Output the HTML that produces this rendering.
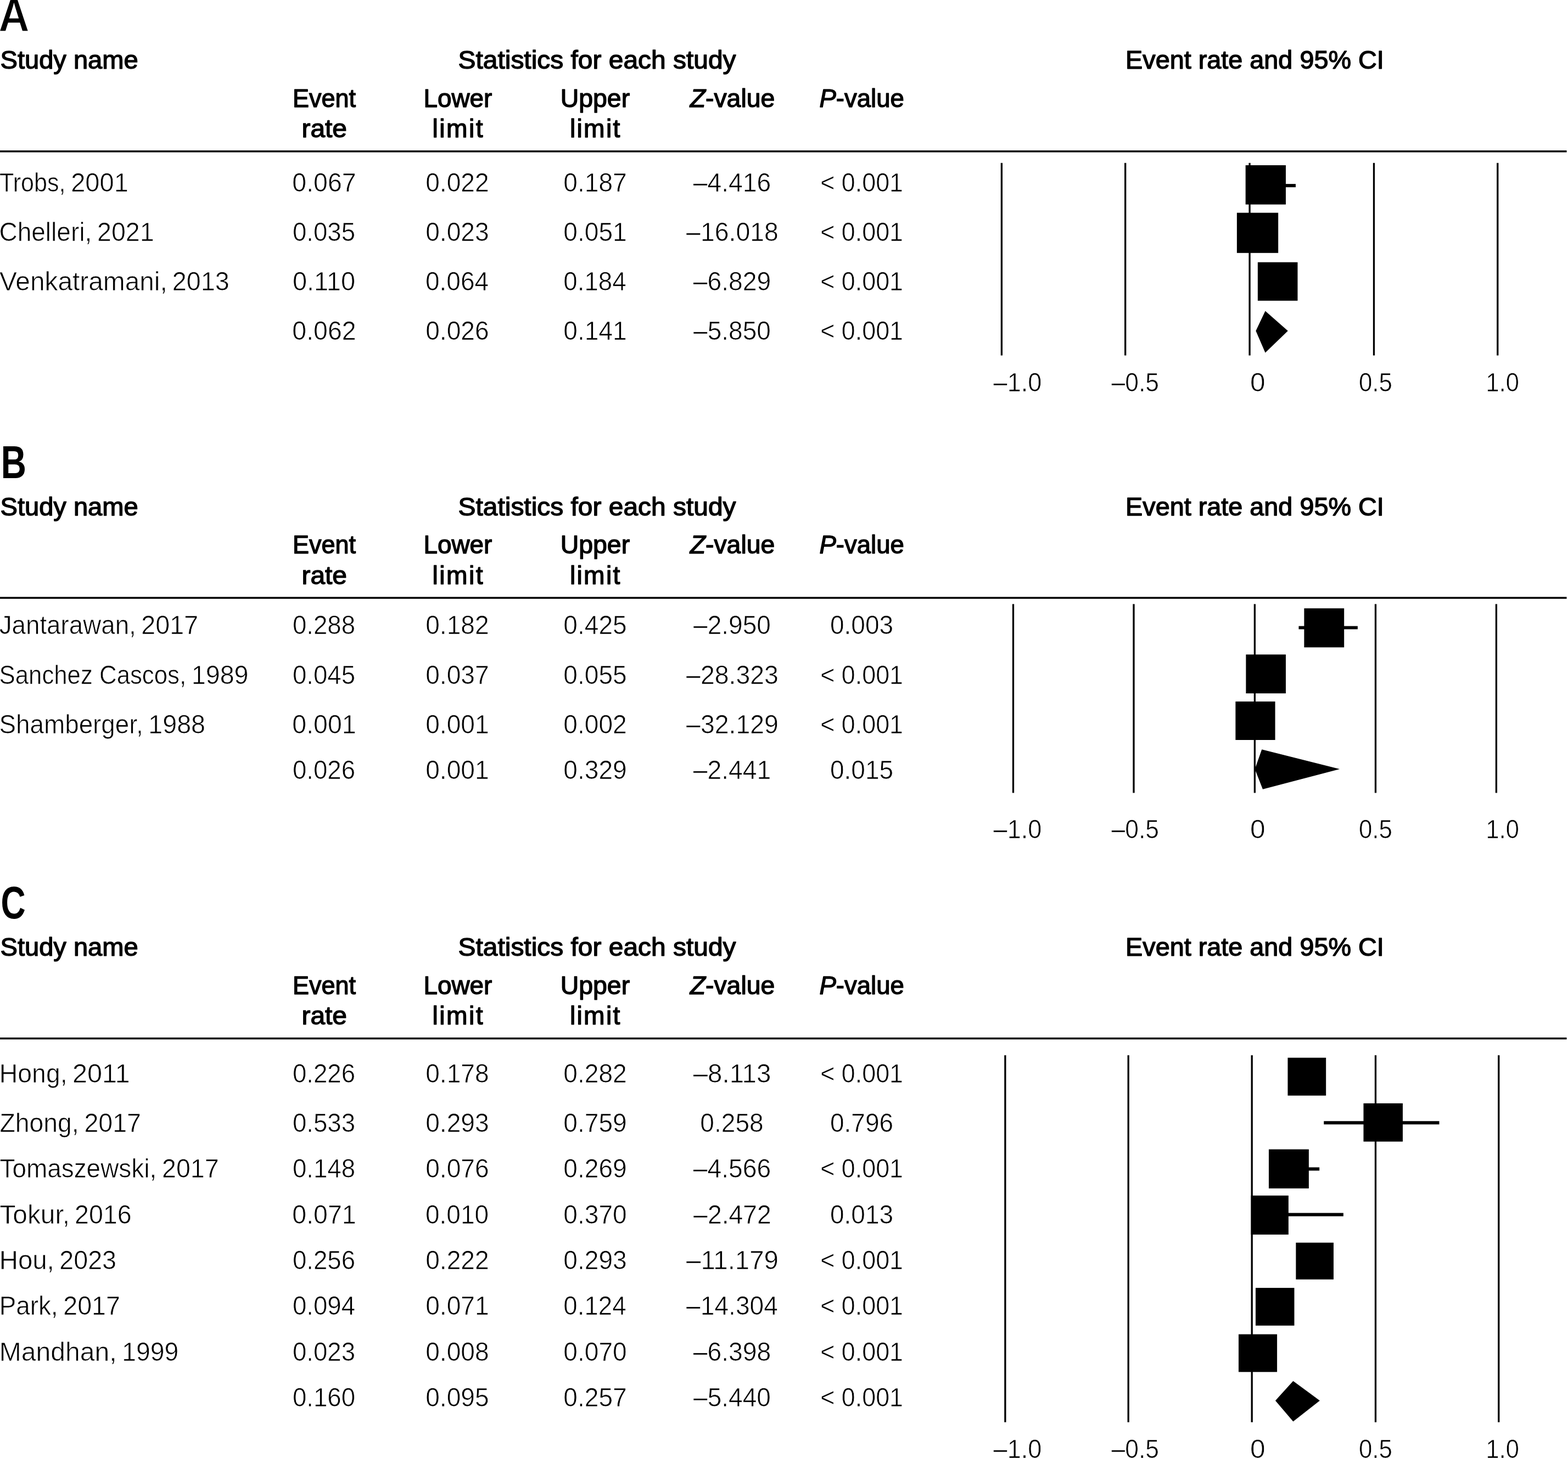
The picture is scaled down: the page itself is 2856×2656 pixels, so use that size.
<!DOCTYPE html>
<html lang="en"><head><meta charset="utf-8"><title>Forest plots: event rate and 95% CI</title>
<style>
html,body{margin:0;padding:0;background:#fff;}
body{width:2856px;height:2656px;overflow:hidden;}
svg{display:block;}
text{font-family:"Liberation Sans",sans-serif;fill:#000;white-space:pre;}
.b{font-weight:400;stroke:#fff;stroke-width:0.7px;}
.h{font-weight:400;stroke:#000;stroke-width:1.4px;stroke-linejoin:round;}
.L{font-weight:700;}
</style></head><body>
<svg width="2856" height="2656" viewBox="0 0 2856 2656">
<rect width="2856" height="2656" fill="#fff"/>
<g fill="#000" shape-rendering="geometricPrecision">

<rect x="0.00" y="274.05" width="2853.60" height="3.40"/>
<rect x="0.00" y="1087.40" width="2853.60" height="3.40"/>
<rect x="0.00" y="1890.05" width="2853.60" height="3.40"/>
<rect x="1822.75" y="296.80" width="3.30" height="350.70"/>
<rect x="2048.05" y="296.80" width="3.30" height="350.70"/>
<rect x="2274.45" y="296.80" width="3.30" height="350.70"/>
<rect x="2500.85" y="296.80" width="3.30" height="350.70"/>
<rect x="2726.15" y="296.80" width="3.30" height="350.70"/>
<rect x="2268.70" y="301.00" width="73.30" height="71.50"/>
<rect x="2252.90" y="387.60" width="75.30" height="73.20"/>
<rect x="2290.90" y="477.70" width="72.60" height="70.10"/>
<rect x="2300.00" y="335.10" width="60.00" height="6.00"/>
<polygon points="2287.4,602.7 2304.6,566.5 2345.8,602.7 2304.6,642.5"/>
<rect x="1843.85" y="1100.40" width="3.30" height="344.00"/>
<rect x="2063.35" y="1100.40" width="3.30" height="344.00"/>
<rect x="2283.75" y="1100.40" width="3.30" height="344.00"/>
<rect x="2503.85" y="1100.40" width="3.30" height="344.00"/>
<rect x="2723.75" y="1100.40" width="3.30" height="344.00"/>
<rect x="2375.40" y="1108.20" width="72.80" height="71.10"/>
<rect x="2269.40" y="1192.30" width="72.60" height="70.80"/>
<rect x="2250.40" y="1277.90" width="72.20" height="70.10"/>
<rect x="2365.50" y="1140.50" width="107.40" height="5.80"/>
<polygon points="2285.6,1401.1 2298.3,1365.2 2440.2,1401.1 2300.0,1437.7"/>
<rect x="1829.25" y="1922.30" width="3.30" height="668.50"/>
<rect x="2053.55" y="1922.30" width="3.30" height="668.50"/>
<rect x="2278.55" y="1922.30" width="3.30" height="668.50"/>
<rect x="2503.85" y="1922.30" width="3.30" height="668.50"/>
<rect x="2728.15" y="1922.30" width="3.30" height="668.50"/>
<rect x="2345.50" y="1926.80" width="69.70" height="69.00"/>
<rect x="2483.50" y="2009.90" width="71.50" height="69.70"/>
<rect x="2311.00" y="2093.70" width="72.90" height="71.20"/>
<rect x="2278.60" y="2177.90" width="68.30" height="71.10"/>
<rect x="2360.40" y="2263.70" width="68.60" height="67.00"/>
<rect x="2287.00" y="2346.10" width="70.50" height="68.70"/>
<rect x="2256.00" y="2430.60" width="70.10" height="68.70"/>
<rect x="2411.30" y="2042.30" width="210.20" height="6.00"/>
<rect x="2340.00" y="2126.50" width="63.20" height="6.00"/>
<rect x="2300.00" y="2209.60" width="146.90" height="6.00"/>
<polygon points="2323.0,2551.4 2355.4,2515.8 2403.9,2551.4 2355.4,2589.4"/>
</g>
<g>
<g id="panel-A">
<text id="A_letter" class="L" y="57" font-size="85" x="-2.78" textLength="56.50" lengthAdjust="spacingAndGlyphs" style="stroke:#fff;stroke-width:1.4px">A</text>
<text id="A_study" class="h" y="125" font-size="46.2" x="0.50" textLength="251.20" lengthAdjust="spacingAndGlyphs">Study name</text>
<text id="A_stats" class="h" y="125" font-size="46.2" x="834.51" textLength="506.00" lengthAdjust="spacingAndGlyphs">Statistics for each study</text>
<text id="A_erci" class="h" y="125" font-size="46.2" x="2050.09" textLength="470.72" lengthAdjust="spacingAndGlyphs">Event rate and 95% CI</text>
<text id="A_event" class="h" y="195" font-size="46.2" x="532.94" textLength="114.96" lengthAdjust="spacingAndGlyphs">Event</text>
<text id="A_rate" class="h" y="250" font-size="46.2" x="549.47" textLength="82.55" lengthAdjust="spacingAndGlyphs">rate</text>
<text id="A_lower" class="h" y="195" font-size="46.2" x="771.53" textLength="124.80" lengthAdjust="spacingAndGlyphs">Lower</text>
<text id="A_limit1" class="h" y="250" font-size="46.2" x="787.40" textLength="92.30" lengthAdjust="spacing">limit</text>
<text id="A_upper" class="h" y="195" font-size="46.2" x="1020.70" textLength="126.44" lengthAdjust="spacingAndGlyphs">Upper</text>
<text id="A_limit2" class="h" y="250" font-size="46.2" x="1037.90" textLength="91.50" lengthAdjust="spacing">limit</text>
<text id="A_z" class="h" y="195" font-size="46.2" x="1256.68" textLength="154.59" lengthAdjust="spacingAndGlyphs"><tspan font-style="italic">Z</tspan>-value</text>
<text id="A_p" class="h" y="195" font-size="46.2" x="1492.40" textLength="154.49" lengthAdjust="spacingAndGlyphs"><tspan font-style="italic">P</tspan>-value</text>
<text id="A_name0" class="b" y="349" font-size="48"><tspan id="A_name0a" x="-0.92" textLength="120.29" lengthAdjust="spacingAndGlyphs">Trobs,</tspan> <tspan id="A_name0b" x="129.20" textLength="104.61" lengthAdjust="spacingAndGlyphs">2001</tspan></text>
<text id="A_n0_0" class="b" y="349" font-size="48" x="532.36" textLength="116.30" lengthAdjust="spacingAndGlyphs">0.067</text>
<text id="A_n0_1" class="b" y="349" font-size="48" x="775.22" textLength="115.36" lengthAdjust="spacingAndGlyphs">0.022</text>
<text id="A_n0_2" class="b" y="349" font-size="48" x="1026.31" textLength="115.36" lengthAdjust="spacingAndGlyphs">0.187</text>
<text id="A_n0_3" class="b" y="349" font-size="48" x="1262.70" textLength="141.61" lengthAdjust="spacingAndGlyphs">–4.416</text>
<text id="A_n0_4" class="b" y="349" font-size="48" x="1494.20" textLength="150.80" lengthAdjust="spacingAndGlyphs">&lt; 0.001</text>
<text id="A_name1" class="b" y="439" font-size="48"><tspan id="A_name1a" x="-1.56" textLength="168.76" lengthAdjust="spacingAndGlyphs">Chelleri,</tspan> <tspan id="A_name1b" x="177.04" textLength="103.52" lengthAdjust="spacingAndGlyphs">2021</tspan></text>
<text id="A_n1_0" class="b" y="439" font-size="48" x="532.95" textLength="114.10" lengthAdjust="spacingAndGlyphs">0.035</text>
<text id="A_n1_1" class="b" y="439" font-size="48" x="775.22" textLength="115.36" lengthAdjust="spacingAndGlyphs">0.023</text>
<text id="A_n1_2" class="b" y="439" font-size="48" x="1026.31" textLength="115.36" lengthAdjust="spacingAndGlyphs">0.051</text>
<text id="A_n1_3" class="b" y="439" font-size="48" x="1250.10" textLength="167.81" lengthAdjust="spacingAndGlyphs">–16.018</text>
<text id="A_n1_4" class="b" y="439" font-size="48" x="1494.20" textLength="150.80" lengthAdjust="spacingAndGlyphs">&lt; 0.001</text>
<text id="A_name2" class="b" y="529" font-size="48"><tspan id="A_name2a" x="-0.91" textLength="305.67" lengthAdjust="spacingAndGlyphs">Venkatramani,</tspan> <tspan id="A_name2b" x="313.82" textLength="103.95" lengthAdjust="spacingAndGlyphs">2013</tspan></text>
<text id="A_n2_0" class="b" y="529" font-size="48" x="532.95" textLength="114.10" lengthAdjust="spacingAndGlyphs">0.110</text>
<text id="A_n2_1" class="b" y="529" font-size="48" x="774.98" textLength="115.24" lengthAdjust="spacingAndGlyphs">0.064</text>
<text id="A_n2_2" class="b" y="529" font-size="48" x="1026.34" textLength="114.31" lengthAdjust="spacingAndGlyphs">0.184</text>
<text id="A_n2_3" class="b" y="529" font-size="48" x="1262.70" textLength="141.61" lengthAdjust="spacingAndGlyphs">–6.829</text>
<text id="A_n2_4" class="b" y="529" font-size="48" x="1494.20" textLength="150.80" lengthAdjust="spacingAndGlyphs">&lt; 0.001</text>
<text id="A_n3_0" class="b" y="619" font-size="48" x="532.36" textLength="116.30" lengthAdjust="spacingAndGlyphs">0.062</text>
<text id="A_n3_1" class="b" y="619" font-size="48" x="775.22" textLength="115.36" lengthAdjust="spacingAndGlyphs">0.026</text>
<text id="A_n3_2" class="b" y="619" font-size="48" x="1026.31" textLength="115.36" lengthAdjust="spacingAndGlyphs">0.141</text>
<text id="A_n3_3" class="b" y="619" font-size="48" x="1263.10" textLength="140.79" lengthAdjust="spacingAndGlyphs">–5.850</text>
<text id="A_n3_4" class="b" y="619" font-size="48" x="1494.20" textLength="150.80" lengthAdjust="spacingAndGlyphs">&lt; 0.001</text>
<text id="A_ax0" class="b" y="713" font-size="48" x="1809.50" textLength="87.99" lengthAdjust="spacingAndGlyphs">–1.0</text>
<text id="A_ax1" class="b" y="713" font-size="48" x="2024.60" textLength="86.49" lengthAdjust="spacingAndGlyphs">–0.5</text>
<text id="A_ax2" class="b" y="713" font-size="48" x="2276.98" textLength="27.63" lengthAdjust="spacingAndGlyphs">0</text>
<text id="A_ax3" class="b" y="713" font-size="48" x="2474.90" textLength="61.10" lengthAdjust="spacingAndGlyphs">0.5</text>
<text id="A_ax4" class="b" y="713" font-size="48" x="2706.50" textLength="60.48" lengthAdjust="spacingAndGlyphs">1.0</text>
</g>
<g id="panel-B">
<text id="B_letter" class="L" y="871" font-size="83" x="1.70" textLength="46.22" lengthAdjust="spacingAndGlyphs">B</text>
<text id="B_study" class="h" y="939" font-size="46.2" x="0.50" textLength="251.20" lengthAdjust="spacingAndGlyphs">Study name</text>
<text id="B_stats" class="h" y="939" font-size="46.2" x="834.51" textLength="506.00" lengthAdjust="spacingAndGlyphs">Statistics for each study</text>
<text id="B_erci" class="h" y="939" font-size="46.2" x="2050.09" textLength="470.72" lengthAdjust="spacingAndGlyphs">Event rate and 95% CI</text>
<text id="B_event" class="h" y="1008" font-size="46.2" x="532.94" textLength="114.96" lengthAdjust="spacingAndGlyphs">Event</text>
<text id="B_rate" class="h" y="1064" font-size="46.2" x="549.47" textLength="82.55" lengthAdjust="spacingAndGlyphs">rate</text>
<text id="B_lower" class="h" y="1008" font-size="46.2" x="771.53" textLength="124.80" lengthAdjust="spacingAndGlyphs">Lower</text>
<text id="B_limit1" class="h" y="1064" font-size="46.2" x="787.40" textLength="92.30" lengthAdjust="spacing">limit</text>
<text id="B_upper" class="h" y="1008" font-size="46.2" x="1020.70" textLength="126.44" lengthAdjust="spacingAndGlyphs">Upper</text>
<text id="B_limit2" class="h" y="1064" font-size="46.2" x="1037.90" textLength="91.50" lengthAdjust="spacing">limit</text>
<text id="B_z" class="h" y="1008" font-size="46.2" x="1256.68" textLength="154.59" lengthAdjust="spacingAndGlyphs"><tspan font-style="italic">Z</tspan>-value</text>
<text id="B_p" class="h" y="1008" font-size="46.2" x="1492.40" textLength="154.49" lengthAdjust="spacingAndGlyphs"><tspan font-style="italic">P</tspan>-value</text>
<text id="B_name0" class="b" y="1155" font-size="48"><tspan id="B_name0a" x="-1.32" textLength="249.08" lengthAdjust="spacingAndGlyphs">Jantarawan,</tspan> <tspan id="B_name0b" x="257.34" textLength="103.73" lengthAdjust="spacingAndGlyphs">2017</tspan></text>
<text id="B_n0_0" class="b" y="1155" font-size="48" x="532.95" textLength="114.10" lengthAdjust="spacingAndGlyphs">0.288</text>
<text id="B_n0_1" class="b" y="1155" font-size="48" x="775.22" textLength="115.36" lengthAdjust="spacingAndGlyphs">0.182</text>
<text id="B_n0_2" class="b" y="1155" font-size="48" x="1026.31" textLength="115.36" lengthAdjust="spacingAndGlyphs">0.425</text>
<text id="B_n0_3" class="b" y="1155" font-size="48" x="1263.10" textLength="140.79" lengthAdjust="spacingAndGlyphs">–2.950</text>
<text id="B_n0_4" class="b" y="1155" font-size="48" x="1511.92" textLength="115.36" lengthAdjust="spacingAndGlyphs">0.003</text>
<text id="B_name1" class="b" y="1246" font-size="48"><tspan id="B_name1a" x="-1.53" textLength="340.68" lengthAdjust="spacingAndGlyphs">Sanchez Cascos,</tspan> <tspan id="B_name1b" x="348.81" textLength="103.75" lengthAdjust="spacingAndGlyphs">1989</tspan></text>
<text id="B_n1_0" class="b" y="1246" font-size="48" x="532.95" textLength="114.10" lengthAdjust="spacingAndGlyphs">0.045</text>
<text id="B_n1_1" class="b" y="1246" font-size="48" x="775.22" textLength="115.36" lengthAdjust="spacingAndGlyphs">0.037</text>
<text id="B_n1_2" class="b" y="1246" font-size="48" x="1026.31" textLength="115.36" lengthAdjust="spacingAndGlyphs">0.055</text>
<text id="B_n1_3" class="b" y="1246" font-size="48" x="1250.10" textLength="167.81" lengthAdjust="spacingAndGlyphs">–28.323</text>
<text id="B_n1_4" class="b" y="1246" font-size="48" x="1494.20" textLength="150.80" lengthAdjust="spacingAndGlyphs">&lt; 0.001</text>
<text id="B_name2" class="b" y="1336" font-size="48"><tspan id="B_name2a" x="-1.56" textLength="262.34" lengthAdjust="spacingAndGlyphs">Shamberger,</tspan> <tspan id="B_name2b" x="270.29" textLength="103.75" lengthAdjust="spacingAndGlyphs">1988</tspan></text>
<text id="B_n2_0" class="b" y="1336" font-size="48" x="532.36" textLength="116.30" lengthAdjust="spacingAndGlyphs">0.001</text>
<text id="B_n2_1" class="b" y="1336" font-size="48" x="775.22" textLength="115.36" lengthAdjust="spacingAndGlyphs">0.001</text>
<text id="B_n2_2" class="b" y="1336" font-size="48" x="1026.31" textLength="115.36" lengthAdjust="spacingAndGlyphs">0.002</text>
<text id="B_n2_3" class="b" y="1336" font-size="48" x="1250.10" textLength="167.81" lengthAdjust="spacingAndGlyphs">–32.129</text>
<text id="B_n2_4" class="b" y="1336" font-size="48" x="1494.20" textLength="150.80" lengthAdjust="spacingAndGlyphs">&lt; 0.001</text>
<text id="B_n3_0" class="b" y="1419" font-size="48" x="532.95" textLength="114.10" lengthAdjust="spacingAndGlyphs">0.026</text>
<text id="B_n3_1" class="b" y="1419" font-size="48" x="775.22" textLength="115.36" lengthAdjust="spacingAndGlyphs">0.001</text>
<text id="B_n3_2" class="b" y="1419" font-size="48" x="1026.31" textLength="115.36" lengthAdjust="spacingAndGlyphs">0.329</text>
<text id="B_n3_3" class="b" y="1419" font-size="48" x="1262.70" textLength="141.61" lengthAdjust="spacingAndGlyphs">–2.441</text>
<text id="B_n3_4" class="b" y="1419" font-size="48" x="1511.92" textLength="115.36" lengthAdjust="spacingAndGlyphs">0.015</text>
<text id="B_ax0" class="b" y="1527" font-size="48" x="1809.50" textLength="87.99" lengthAdjust="spacingAndGlyphs">–1.0</text>
<text id="B_ax1" class="b" y="1527" font-size="48" x="2024.60" textLength="86.49" lengthAdjust="spacingAndGlyphs">–0.5</text>
<text id="B_ax2" class="b" y="1527" font-size="48" x="2276.98" textLength="27.63" lengthAdjust="spacingAndGlyphs">0</text>
<text id="B_ax3" class="b" y="1527" font-size="48" x="2474.90" textLength="61.10" lengthAdjust="spacingAndGlyphs">0.5</text>
<text id="B_ax4" class="b" y="1527" font-size="48" x="2706.50" textLength="60.48" lengthAdjust="spacingAndGlyphs">1.0</text>
</g>
<g id="panel-C">
<text id="C_letter" class="L" y="1673" font-size="83" x="1.42" textLength="45.12" lengthAdjust="spacingAndGlyphs">C</text>
<text id="C_study" class="h" y="1741" font-size="46.2" x="0.50" textLength="251.20" lengthAdjust="spacingAndGlyphs">Study name</text>
<text id="C_stats" class="h" y="1741" font-size="46.2" x="834.51" textLength="506.00" lengthAdjust="spacingAndGlyphs">Statistics for each study</text>
<text id="C_erci" class="h" y="1741" font-size="46.2" x="2050.09" textLength="470.72" lengthAdjust="spacingAndGlyphs">Event rate and 95% CI</text>
<text id="C_event" class="h" y="1811" font-size="46.2" x="532.94" textLength="114.96" lengthAdjust="spacingAndGlyphs">Event</text>
<text id="C_rate" class="h" y="1866" font-size="46.2" x="549.47" textLength="82.55" lengthAdjust="spacingAndGlyphs">rate</text>
<text id="C_lower" class="h" y="1811" font-size="46.2" x="771.53" textLength="124.80" lengthAdjust="spacingAndGlyphs">Lower</text>
<text id="C_limit1" class="h" y="1866" font-size="46.2" x="787.40" textLength="92.30" lengthAdjust="spacing">limit</text>
<text id="C_upper" class="h" y="1811" font-size="46.2" x="1020.70" textLength="126.44" lengthAdjust="spacingAndGlyphs">Upper</text>
<text id="C_limit2" class="h" y="1866" font-size="46.2" x="1037.90" textLength="91.50" lengthAdjust="spacing">limit</text>
<text id="C_z" class="h" y="1811" font-size="46.2" x="1256.68" textLength="154.59" lengthAdjust="spacingAndGlyphs"><tspan font-style="italic">Z</tspan>-value</text>
<text id="C_p" class="h" y="1811" font-size="46.2" x="1492.40" textLength="154.49" lengthAdjust="spacingAndGlyphs"><tspan font-style="italic">P</tspan>-value</text>
<text id="C_name0" class="b" y="1972" font-size="48"><tspan id="C_name0a" x="-1.27" textLength="123.89" lengthAdjust="spacingAndGlyphs">Hong,</tspan> <tspan id="C_name0b" x="131.99" textLength="104.61" lengthAdjust="spacingAndGlyphs">2011</tspan></text>
<text id="C_n0_0" class="b" y="1972" font-size="48" x="532.95" textLength="114.10" lengthAdjust="spacingAndGlyphs">0.226</text>
<text id="C_n0_1" class="b" y="1972" font-size="48" x="775.22" textLength="115.36" lengthAdjust="spacingAndGlyphs">0.178</text>
<text id="C_n0_2" class="b" y="1972" font-size="48" x="1026.31" textLength="115.36" lengthAdjust="spacingAndGlyphs">0.282</text>
<text id="C_n0_3" class="b" y="1972" font-size="48" x="1262.70" textLength="141.61" lengthAdjust="spacingAndGlyphs">–8.113</text>
<text id="C_n0_4" class="b" y="1972" font-size="48" x="1494.20" textLength="150.80" lengthAdjust="spacingAndGlyphs">&lt; 0.001</text>
<text id="C_name1" class="b" y="2062" font-size="48"><tspan id="C_name1a" x="-0.53" textLength="144.13" lengthAdjust="spacingAndGlyphs">Zhong,</tspan> <tspan id="C_name1b" x="153.44" textLength="103.52" lengthAdjust="spacingAndGlyphs">2017</tspan></text>
<text id="C_n1_0" class="b" y="2062" font-size="48" x="532.95" textLength="114.10" lengthAdjust="spacingAndGlyphs">0.533</text>
<text id="C_n1_1" class="b" y="2062" font-size="48" x="775.22" textLength="115.36" lengthAdjust="spacingAndGlyphs">0.293</text>
<text id="C_n1_2" class="b" y="2062" font-size="48" x="1026.31" textLength="115.36" lengthAdjust="spacingAndGlyphs">0.759</text>
<text id="C_n1_3" class="b" y="2062" font-size="48" x="1275.31" textLength="115.36" lengthAdjust="spacingAndGlyphs">0.258</text>
<text id="C_n1_4" class="b" y="2062" font-size="48" x="1511.92" textLength="115.36" lengthAdjust="spacingAndGlyphs">0.796</text>
<text id="C_name2" class="b" y="2145" font-size="48"><tspan id="C_name2a" x="-0.52" textLength="285.66" lengthAdjust="spacingAndGlyphs">Tomaszewski,</tspan> <tspan id="C_name2b" x="295.04" textLength="103.52" lengthAdjust="spacingAndGlyphs">2017</tspan></text>
<text id="C_n2_0" class="b" y="2145" font-size="48" x="532.95" textLength="114.10" lengthAdjust="spacingAndGlyphs">0.148</text>
<text id="C_n2_1" class="b" y="2145" font-size="48" x="775.22" textLength="115.36" lengthAdjust="spacingAndGlyphs">0.076</text>
<text id="C_n2_2" class="b" y="2145" font-size="48" x="1026.31" textLength="115.36" lengthAdjust="spacingAndGlyphs">0.269</text>
<text id="C_n2_3" class="b" y="2145" font-size="48" x="1262.70" textLength="141.61" lengthAdjust="spacingAndGlyphs">–4.566</text>
<text id="C_n2_4" class="b" y="2145" font-size="48" x="1494.20" textLength="150.80" lengthAdjust="spacingAndGlyphs">&lt; 0.001</text>
<text id="C_name3" class="b" y="2229" font-size="48"><tspan id="C_name3a" x="-0.55" textLength="127.58" lengthAdjust="spacingAndGlyphs">Tokur,</tspan> <tspan id="C_name3b" x="136.04" textLength="103.52" lengthAdjust="spacingAndGlyphs">2016</tspan></text>
<text id="C_n3_0" class="b" y="2229" font-size="48" x="532.36" textLength="116.30" lengthAdjust="spacingAndGlyphs">0.071</text>
<text id="C_n3_1" class="b" y="2229" font-size="48" x="774.98" textLength="115.24" lengthAdjust="spacingAndGlyphs">0.010</text>
<text id="C_n3_2" class="b" y="2229" font-size="48" x="1026.31" textLength="115.36" lengthAdjust="spacingAndGlyphs">0.370</text>
<text id="C_n3_3" class="b" y="2229" font-size="48" x="1263.10" textLength="141.81" lengthAdjust="spacingAndGlyphs">–2.472</text>
<text id="C_n3_4" class="b" y="2229" font-size="48" x="1511.92" textLength="115.36" lengthAdjust="spacingAndGlyphs">0.013</text>
<text id="C_name4" class="b" y="2312" font-size="48"><tspan id="C_name4a" x="-1.31" textLength="100.00" lengthAdjust="spacingAndGlyphs">Hou,</tspan> <tspan id="C_name4b" x="108.34" textLength="103.72" lengthAdjust="spacingAndGlyphs">2023</tspan></text>
<text id="C_n4_0" class="b" y="2312" font-size="48" x="532.95" textLength="114.10" lengthAdjust="spacingAndGlyphs">0.256</text>
<text id="C_n4_1" class="b" y="2312" font-size="48" x="775.22" textLength="115.36" lengthAdjust="spacingAndGlyphs">0.222</text>
<text id="C_n4_2" class="b" y="2312" font-size="48" x="1026.31" textLength="115.36" lengthAdjust="spacingAndGlyphs">0.293</text>
<text id="C_n4_3" class="b" y="2312" font-size="48" x="1250.10" textLength="167.81" lengthAdjust="spacingAndGlyphs">–11.179</text>
<text id="C_n4_4" class="b" y="2312" font-size="48" x="1494.20" textLength="150.80" lengthAdjust="spacingAndGlyphs">&lt; 0.001</text>
<text id="C_name5" class="b" y="2395" font-size="48"><tspan id="C_name5a" x="-1.32" textLength="106.88" lengthAdjust="spacingAndGlyphs">Park,</tspan> <tspan id="C_name5b" x="115.23" textLength="103.73" lengthAdjust="spacingAndGlyphs">2017</tspan></text>
<text id="C_n5_0" class="b" y="2395" font-size="48" x="532.95" textLength="114.10" lengthAdjust="spacingAndGlyphs">0.094</text>
<text id="C_n5_1" class="b" y="2395" font-size="48" x="775.22" textLength="115.36" lengthAdjust="spacingAndGlyphs">0.071</text>
<text id="C_n5_2" class="b" y="2395" font-size="48" x="1026.34" textLength="114.31" lengthAdjust="spacingAndGlyphs">0.124</text>
<text id="C_n5_3" class="b" y="2395" font-size="48" x="1250.10" textLength="166.79" lengthAdjust="spacingAndGlyphs">–14.304</text>
<text id="C_n5_4" class="b" y="2395" font-size="48" x="1494.20" textLength="150.80" lengthAdjust="spacingAndGlyphs">&lt; 0.001</text>
<text id="C_name6" class="b" y="2479" font-size="48"><tspan id="C_name6a" x="-1.24" textLength="213.96" lengthAdjust="spacingAndGlyphs">Mandhan,</tspan> <tspan id="C_name6b" x="222.24" textLength="102.91" lengthAdjust="spacingAndGlyphs">1999</tspan></text>
<text id="C_n6_0" class="b" y="2479" font-size="48" x="532.95" textLength="114.10" lengthAdjust="spacingAndGlyphs">0.023</text>
<text id="C_n6_1" class="b" y="2479" font-size="48" x="775.22" textLength="115.36" lengthAdjust="spacingAndGlyphs">0.008</text>
<text id="C_n6_2" class="b" y="2479" font-size="48" x="1026.31" textLength="115.36" lengthAdjust="spacingAndGlyphs">0.070</text>
<text id="C_n6_3" class="b" y="2479" font-size="48" x="1262.70" textLength="141.61" lengthAdjust="spacingAndGlyphs">–6.398</text>
<text id="C_n6_4" class="b" y="2479" font-size="48" x="1494.20" textLength="150.80" lengthAdjust="spacingAndGlyphs">&lt; 0.001</text>
<text id="C_n7_0" class="b" y="2562" font-size="48" x="532.95" textLength="114.10" lengthAdjust="spacingAndGlyphs">0.160</text>
<text id="C_n7_1" class="b" y="2562" font-size="48" x="775.22" textLength="115.36" lengthAdjust="spacingAndGlyphs">0.095</text>
<text id="C_n7_2" class="b" y="2562" font-size="48" x="1026.31" textLength="115.36" lengthAdjust="spacingAndGlyphs">0.257</text>
<text id="C_n7_3" class="b" y="2562" font-size="48" x="1263.10" textLength="140.79" lengthAdjust="spacingAndGlyphs">–5.440</text>
<text id="C_n7_4" class="b" y="2562" font-size="48" x="1494.20" textLength="150.80" lengthAdjust="spacingAndGlyphs">&lt; 0.001</text>
<text id="C_ax0" class="b" y="2656" font-size="48" x="1809.50" textLength="87.99" lengthAdjust="spacingAndGlyphs">–1.0</text>
<text id="C_ax1" class="b" y="2656" font-size="48" x="2024.60" textLength="86.49" lengthAdjust="spacingAndGlyphs">–0.5</text>
<text id="C_ax2" class="b" y="2656" font-size="48" x="2276.98" textLength="27.63" lengthAdjust="spacingAndGlyphs">0</text>
<text id="C_ax3" class="b" y="2656" font-size="48" x="2474.90" textLength="61.10" lengthAdjust="spacingAndGlyphs">0.5</text>
<text id="C_ax4" class="b" y="2656" font-size="48" x="2706.50" textLength="60.48" lengthAdjust="spacingAndGlyphs">1.0</text>
</g>
</g>
</svg>
</body></html>
